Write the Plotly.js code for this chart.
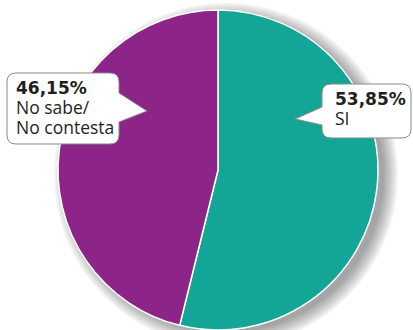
<!DOCTYPE html>
<html>
<head>
<meta charset="utf-8">
<script src="https://cdn.plot.ly/plotly-3.0.1.min.js"></script>
<style>html,body{margin:0;padding:0;background:#fff;}#chart{width:413px;height:330px;}</style>
</head>
<body>
<div id="chart"></div>
<script>
const categories = ["SI", "No sabe/<br>No contesta"];
const labelLines = [["SI"], ["No sabe/", "No contesta"]];
const percentLabels = ["53,85%", "46,15%"];
const values = [53.85, 46.15];
const colors = ["#13A596", "#8D2488"];

const W = 413, H = 330;
const px = (x) => x / W;
const py = (y) => 1 - y / H;

// pie geometry (pixels)
const cx = 218, cy = 170, R = 160;

function pathFrom(points) {
  return points.map((p, i) => {
    if (p[0] === 'Q') return `Q${px(p[1]).toFixed(5)},${py(p[2]).toFixed(5)} ${px(p[3]).toFixed(5)},${py(p[4]).toFixed(5)}`;
    return (i === 0 ? 'M' : 'L') + px(p[0]).toFixed(5) + ',' + py(p[1]).toFixed(5);
  }).join(' ') + ' Z';
}
function bubble(x0, y0, x1, y1, r, side, b0, b1, tx, ty) {
  const pts = [];
  pts.push([x0 + r, y0]);
  pts.push([x1 - r, y0]);
  pts.push(['Q', x1, y0, x1, y0 + r]);
  if (side === 'right') { pts.push([x1, b0]); pts.push([tx, ty]); pts.push([x1, b1]); }
  pts.push([x1, y1 - r]);
  pts.push(['Q', x1, y1, x1 - r, y1]);
  pts.push([x0 + r, y1]);
  pts.push(['Q', x0, y1, x0, y1 - r]);
  if (side === 'left') { pts.push([x0, b1]); pts.push([tx, ty]); pts.push([x0, b0]); }
  pts.push([x0, y0 + r]);
  pts.push(['Q', x0, y0, x0 + r, y0]);
  return pathFrom(pts);
}

const shapes = [];
// soft drop shadow behind pie
for (let i = 0; i < 8; i++) {
  const r = 158 + i * 2;
  const sx = cx + 8, sy = cy + 5;
  shapes.push({type: 'circle', xref: 'paper', yref: 'paper', layer: 'below',
    x0: px(sx - r), x1: px(sx + r), y0: py(sy + r), y1: py(sy - r),
    fillcolor: 'rgba(0,0,0,0.05)', line: {width: 0}});
}
// callout bubbles
shapes.push({type: 'path', xref: 'paper', yref: 'paper', layer: 'above',
  path: bubble(7, 73, 119, 144, 9, 'right', 93, 122, 147, 111),
  fillcolor: '#ffffff', line: {color: '#8a8a8a', width: 1}});
shapes.push({type: 'path', xref: 'paper', yref: 'paper', layer: 'above',
  path: bubble(322, 84, 411, 138, 9, 'left', 107, 125, 295, 119),
  fillcolor: '#ffffff', line: {color: '#8a8a8a', width: 1}});

const txtColor = '#231F20';
const boldSpan = (t) => `<span style="font-family:'DejaVu Sans';font-weight:bold;font-size:17px">${t}</span>`;
const regSpan = (t) => `<span style="font-size:17.5px">${t}</span>`;
function callout(pIdx, x, y) {
  const parts = [boldSpan(percentLabels[pIdx])].concat(labelLines[pIdx].map(regSpan));
  return {text: parts.join('<br>'), xref: 'paper', yref: 'paper', x: px(x), y: py(y),
    xanchor: 'left', yanchor: 'middle', showarrow: false, align: 'left',
    font: {family: 'Open Sans', size: 15.4, color: txtColor}};
}
const annotations = [callout(1, 14, 108.5), callout(0, 333, 110)];

const trace = {
  type: 'pie',
  labels: categories,
  values: values,
  sort: false,
  direction: 'clockwise',
  rotation: 0,
  textinfo: 'none',
  hoverinfo: 'label+percent',
  marker: {colors: colors, line: {color: '#ffffff', width: 1.5}},
  domain: {x: [px(cx - R), px(cx + R)], y: [py(cy + R), py(cy - R)]},
  showlegend: false
};

Plotly.newPlot('chart', [trace], {
  width: W, height: H,
  margin: {l: 0, r: 0, t: 0, b: 0},
  paper_bgcolor: '#ffffff',
  showlegend: false,
  shapes: shapes,
  annotations: annotations
}, {displayModeBar: false, staticPlot: true});
</script>
</body>
</html>
